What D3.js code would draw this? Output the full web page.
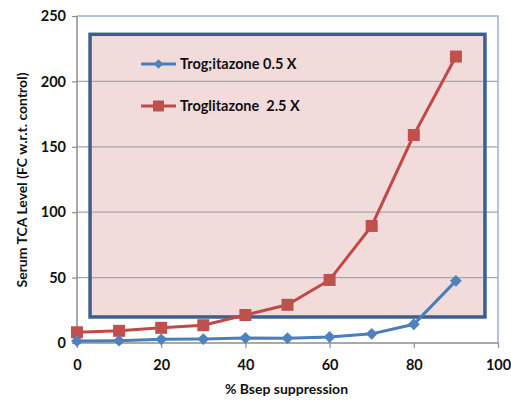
<!DOCTYPE html>
<html>
<head>
<meta charset="utf-8">
<script src="https://cdn.jsdelivr.net/npm/d3@7"></script>
<style>
  body { margin: 0; background: #fff; }
  text { font-family: Lato, "Open Sans", sans-serif; font-weight: bold; fill: #111; }
</style>
</head>
<body>
<svg id="chart" width="511" height="401"></svg>
<script>
// Serum TCA level versus % Bsep suppression
const suppression = [0, 10, 20, 30, 40, 50, 60, 70, 80, 90];
const lowDose = [1.5, 1.8, 2.8, 3.0, 3.8, 3.7, 4.6, 7.0, 14.3, 47.5];
const highDose = [8.2, 9.3, 11.6, 13.6, 21.4, 29.2, 48.2, 89.5, 159, 219];
const seriesNames = ["Trog;itazone 0.5 X", "Troglitazone  2.5 X"];
const xTicks = [0, 20, 40, 60, 80, 100];
const yTicks = [0, 50, 100, 150, 200, 250];
// highlighted band: x 3..97, y 20..236
const bandX = [3.1, 96.9];
const bandY = [19.9, 236];

const svg = d3.select("#chart");
const padL = 77, padR = 498, padT = 16, padB = 343;

const x = d3.scaleLinear().domain([0, 100]).range([padL, padR]);
const y = d3.scaleLinear().domain([0, 250]).range([padB, padT]);

// gridlines
svg.append("g").selectAll("line").data(yTicks.slice(1, -1)).join("line")
  .attr("x1", padL).attr("x2", padR)
  .attr("y1", d => y(d)).attr("y2", d => y(d))
  .attr("stroke", "#a6a6a6").attr("stroke-width", 1.2);

// plot-area outline (top and right)
svg.append("path")
  .attr("d", `M${padL},${padT}H${padR}V${padB}`)
  .attr("fill", "none").attr("stroke", "#95b3d7").attr("stroke-width", 1.5);

// shaded band
svg.append("rect")
  .attr("x", x(bandX[0])).attr("y", y(bandY[1]))
  .attr("width", x(bandX[1]) - x(bandX[0]))
  .attr("height", y(bandY[0]) - y(bandY[1]))
  .attr("fill", "#f2dcdb")
  .attr("stroke", "#3c5f8f").attr("stroke-width", 3.5);

// gridlines drawn over the band too
svg.append("g").selectAll("line")
  .data(yTicks.filter(d => d > bandY[0] && d < bandY[1])).join("line")
  .attr("x1", x(bandX[0]) + 2).attr("x2", x(bandX[1]) - 2)
  .attr("y1", d => y(d)).attr("y2", d => y(d))
  .attr("stroke", "#a6a6a6").attr("stroke-width", 1.2);

// axes
const yAxis = d3.axisLeft(y).tickValues(yTicks).tickSize(5).tickPadding(6);
const gy = svg.append("g").attr("transform", `translate(${padL},0)`).call(yAxis);
const xAxis = d3.axisBottom(x).tickValues(xTicks).tickSize(5).tickPadding(12);
const gx = svg.append("g").attr("transform", `translate(0,${padB})`).call(xAxis);
[gy, gx].forEach(g => {
  g.select(".domain").attr("stroke", "#8c8c8c").attr("stroke-width", 1.5);
  g.selectAll(".tick line").attr("stroke", "#8c8c8c").attr("stroke-width", 1.2);
  g.selectAll(".tick text").style("font-size", "14.5px").style("font-family", "Lato, sans-serif")
    .style("font-weight", "bold").attr("fill", "#111");
});
gx.select(".domain").attr("d", `M${padL},0H${padR}`);
gy.select(".domain").attr("d", `M0,${padB}V${padT}`);

// series
const line = d3.line().x((d, i) => x(suppression[i])).y(d => y(d));
const colors = ["#4a7ebb", "#be4b48"];
const fills = ["#4f81bd", "#c0504d"];

svg.append("path").datum(highDose).attr("d", line)
  .attr("fill", "none").attr("stroke", colors[1]).attr("stroke-width", 3);
svg.append("g").selectAll("rect").data(highDose).join("rect")
  .attr("x", (d, i) => x(suppression[i]) - 6).attr("y", d => y(d) - 6)
  .attr("width", 12).attr("height", 12).attr("fill", fills[1]);

svg.append("path").datum(lowDose).attr("d", line)
  .attr("fill", "none").attr("stroke", colors[0]).attr("stroke-width", 3);
const diamond = d3.symbol().type(d3.symbolDiamond2).size(90);
svg.append("g").selectAll("path").data(lowDose).join("path")
  .attr("transform", (d, i) => `translate(${x(suppression[i])},${y(d)})`)
  .attr("d", diamond).attr("fill", fills[0]);

// legend
const legend = svg.append("g");
const legY = [64, 106];
seriesNames.forEach((name, i) => {
  legend.append("line").attr("x1", 141).attr("x2", 176)
    .attr("y1", legY[i]).attr("y2", legY[i])
    .attr("stroke", colors[i]).attr("stroke-width", 3);
  if (i === 0) {
    legend.append("path").attr("transform", `translate(158.5,${legY[i]})`)
      .attr("d", d3.symbol().type(d3.symbolDiamond2).size(60)).attr("fill", fills[0]);
  } else {
    legend.append("rect").attr("x", 153).attr("y", legY[i] - 5.5)
      .attr("width", 11).attr("height", 11).attr("fill", fills[1]);
  }
  legend.append("text").attr("x", 180).attr("y", legY[i] + 5)
    .style("font-size", "14.5px").style("white-space", "pre")
    .text(name);
});

// axis titles
svg.append("text").attr("x", (padL + padR) / 2 - 1).attr("y", 394)
  .attr("text-anchor", "middle").style("font-size", "14px").text("% Bsep suppression");
svg.append("text").attr("transform", `translate(27,180) rotate(-90)`)
  .attr("text-anchor", "middle").style("font-size", "14px").text("Serum TCA Level (FC w.r.t. control)");
</script>
</body>
</html>
